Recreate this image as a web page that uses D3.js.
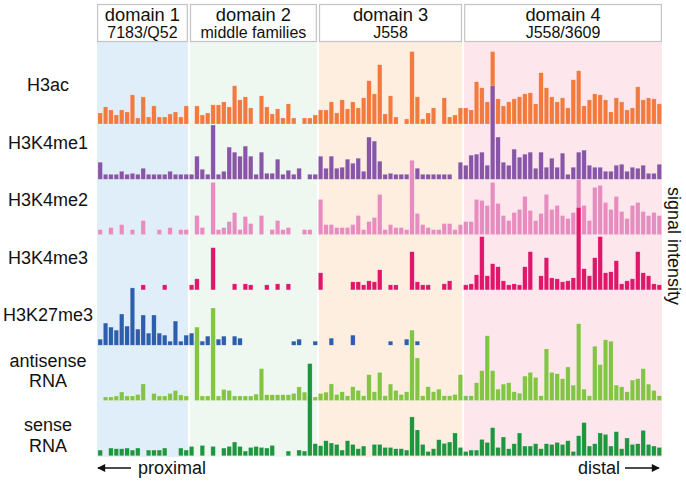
<!DOCTYPE html>
<html>
<head>
<meta charset="utf-8">
<script src="https://cdn.jsdelivr.net/npm/d3@7/dist/d3.min.js"></script>
<style>
html,body{margin:0;padding:0;background:#fff;}
svg{display:block;font-family:"Liberation Sans",Arial,Helvetica,sans-serif;}
</style>
</head>
<body>
<svg id="chart" width="686" height="483"></svg>
<script>
// ---------- data ----------
const N = null;
const domainNames = ["domain 1", "domain 2", "domain 3", "domain 4"];
const domainSubs = ["7183/Q52", "middle families", "J558", "J558/3609"];
const domainStartSlot = [0, 17, 41, 68];
const domainEndSlot = [17, 41, 68, 105];
const trackNames = [["H3ac"], ["H3K4me1"], ["H3K4me2"], ["H3K4me3"], ["H3K27me3"], ["antisense", "RNA"], ["sense", "RNA"]];
const axisLabel = "signal intensity";
const leftArrowLabel = "proximal";
const rightArrowLabel = "distal";

const h3ac = [11,17,14,9,14,12,29,6,27,7,18,7,7,10,12,7,18,
  N,18,9,11,19,19,22,17,38,24,27,16,N,28,17,10,15,6,20,6,N,6,6,9,
  14,14,22,11,24,15,22,16,26,43,30,59,10,28,7,N,5,72,27,5,11,16,N,26,7,9,16,
  16,14,42,36,22,72,25,18,22,25,27,30,31,20,51,36,27,22,26,16,44,53,18,24,30,29,24,12,26,22,14,16,37,24,26,25,20];
const h3k4me1 = [17,5,5,5,8,5,6,5,11,5,5,5,5,8,5,5,5,
  5,23,10,5,54,5,8,32,27,23,33,23,5,27,6,6,20,5,9,5,11,N,5,5,
  23,11,23,11,12,20,16,21,8,42,38,18,5,6,5,5,5,5,11,5,5,5,5,5,5,N,17,
  14,24,25,27,14,93,42,17,14,30,22,25,27,11,27,12,21,12,26,5,12,27,29,14,12,12,8,8,14,15,8,12,11,14,6,6,15];
const h3k4me2 = [5,N,7,N,10,N,5,N,14,N,N,5,N,7,N,5,5,
  N,19,7,N,52,5,7,13,22,5,18,11,N,19,N,5,14,5,7,N,N,5,5,N,
  35,10,10,7,7,7,10,19,5,13,17,40,5,10,7,7,5,74,21,10,7,5,5,11,11,5,10,
  13,13,35,34,29,52,31,19,14,22,25,38,24,14,21,40,25,29,19,16,22,55,29,14,47,49,32,25,38,23,16,29,32,23,19,22,19];
const h3k4me3 = [N,N,N,N,N,N,N,N,5,N,N,N,5,N,N,N,N,
  5,11,N,N,42,N,N,N,6,N,6,5,N,N,5,N,6,N,6,N,N,N,N,N,
  17,N,N,N,N,N,8,8,5,9,8,20,N,5,5,N,N,38,8,5,5,N,N,6,9,N,N,
  5,6,15,53,14,26,23,9,5,6,5,23,38,N,14,32,12,11,8,9,12,82,21,14,32,53,17,18,29,6,9,11,38,17,14,6,5];
const h3k27me3 = [6,22,18,15,31,19,57,16,30,12,30,12,10,4,24,4,10,
  12,4,4,9,N,6,9,N,9,7,N,N,N,N,N,N,N,N,N,4,6,N,N,4,
  N,N,7,N,N,N,10,N,N,N,N,N,N,4,N,N,6,N,4,N,N,N,N,N,N,N,N,
  N,N,N,N,N,N,N,N,N,N,N,N,N,N,N,N,N,N,N,N,N,N,N,N,N,N,N,N,N,N,N,N,N,N,N,N,N];
const antisenseRNA = [N,3.5,3.5,4.5,8.5,4.5,4.5,6,16.5,N,7,4.5,4.5,7,10,5.5,4.5,
  N,73,4.5,4.5,92,4.5,11,10,4.5,4.5,4.5,4.5,6.3,31.7,5.7,5.7,5.7,5.7,5.7,7,13.5,8.3,5,3.5,
  7,8.3,16.5,6,8.7,4.7,13.7,10,4.7,25.7,8.7,28,4.7,16.3,10,6,8.7,70,42.3,4.7,13.7,8.7,11.3,4.7,4.7,6,25.7,
  4.7,4.7,17.7,29.7,64.4,29.7,11.3,16.3,17.7,8.7,7.3,24.3,28,23,4.7,51.3,28,26.7,21.7,33.3,15.3,76.4,11.3,4.7,54,35.7,60.4,59,15.3,13.7,8.7,20.3,21.7,31.7,16.3,10,4.7];
const senseRNA = [5.7,N,7.7,7,7,7.7,5.7,7.7,N,5.7,5.7,5.7,7.7,N,N,7.7,5.7,
  9.3,N,10.3,N,9.3,N,7.7,9.3,13.7,9.3,4.7,8.3,9.3,8.3,7.7,10.3,N,N,4.7,N,5.7,4.7,91.7,12,
  10,15,12.7,11.3,5.7,15,11.3,7,9.7,N,11.3,11.3,8.3,8.3,7,7,5.7,38.7,25.7,11.3,4.3,7,16,12.3,13.7,22.7,8.3,
  4.3,5.7,5.7,16.3,13.3,28,8.3,18.7,7,12,22.7,9.7,9.7,12,7,12,11.3,13.3,11.3,15,4.3,20,33,9.7,12,22.7,21.3,9.7,24,7,17.7,11.3,12,25.3,11.3,9.7,8.3];

// ---------- styles / layout ----------
const trackSeries = [h3ac, h3k4me1, h3k4me2, h3k4me3, h3k27me3, antisenseRNA, senseRNA];
const trackColors = ["#f37a3e", "#8956a7", "#e68cbe", "#e0166a", "#2c5eab", "#83c443", "#1e963e"];
const domainColors = ["#dfeef8", "#eff7f1", "#fdeee0", "#fde6ec"];
const labelBaselines = [90.5, 149, 206, 264, 320.5, 366.5, 431];

const svg = d3.select("#chart");
const nSlots = 105;
const x = d3.scaleLinear().domain([0, nSlots]).range([97.5, 662]);
const y = d3.scaleLinear().domain([0, 55]).range([0, 55.3]);
const base0 = 124, trackStep = 55.3;
const pitch = x(1) - x(0);

const dLeft = i => x(domainStartSlot[i]) + (domainStartSlot[i] === 0 ? -0.5 : 1);
const dRight = i => x(domainEndSlot[i]) - (domainEndSlot[i] === nSlots ? 0 : 1);

// domain backgrounds
svg.append("g").selectAll("rect").data(domainNames).join("rect")
  .attr("x", (d, i) => dLeft(i))
  .attr("width", (d, i) => dRight(i) - dLeft(i))
  .attr("y", 41.5).attr("height", 457 - 41.5)
  .attr("fill", (d, i) => domainColors[i]);

// header boxes
const hdr = svg.append("g").selectAll("g").data(domainNames).join("g");
hdr.append("rect")
  .attr("x", (d, i) => dLeft(i) + 0.6)
  .attr("width", (d, i) => dRight(i) - dLeft(i) - 1.2)
  .attr("y", 4.5).attr("height", 37)
  .attr("fill", "#fff").attr("stroke", "#c4c4c4").attr("stroke-width", 1.2);
hdr.append("text")
  .attr("x", (d, i) => (dLeft(i) + dRight(i)) / 2)
  .attr("y", 21).attr("text-anchor", "middle")
  .attr("font-size", 18.3).attr("fill", "#111").text(d => d);
hdr.append("text")
  .attr("x", (d, i) => (dLeft(i) + dRight(i)) / 2)
  .attr("y", 38).attr("text-anchor", "middle")
  .attr("font-size", 16).attr("fill", "#111").text((d, i) => domainSubs[i]);

// bars
trackSeries.forEach((vals, t) => {
  const base = base0 + t * trackStep;
  const data = vals.map((v, k) => ({ k, v })).filter(d => d.v !== null);
  svg.append("g").selectAll("rect").data(data).join("rect")
    .attr("x", d => x(d.k) + 0.45)
    .attr("width", pitch - 0.9)
    .attr("y", d => base - y(d.v))
    .attr("height", d => y(d.v))
    .attr("fill", trackColors[t])
    .attr("stroke", "rgba(255,255,255,0.45)")
    .attr("stroke-width", 0.5);
});

// track labels
trackNames.forEach((lines, t) => {
  const txt = svg.append("text").attr("text-anchor", "middle")
    .attr("font-size", 18).attr("fill", "#111");
  lines.forEach((ln, j) => {
    txt.append("tspan").attr("x", 48).attr("y", labelBaselines[t] + j * 20.5).text(ln);
  });
});

// right axis label
svg.append("text")
  .attr("transform", "translate(668,246) rotate(90)")
  .attr("text-anchor", "middle").attr("font-size", 18).attr("fill", "#111")
  .text(axisLabel);

// arrows
const defs = svg.append("defs");
defs.append("marker").attr("id", "ah").attr("viewBox", "0 0 10 10")
  .attr("refX", 9).attr("refY", 5).attr("markerWidth", 10).attr("markerHeight", 8)
  .attr("markerUnits", "userSpaceOnUse").attr("orient", "auto")
  .append("path").attr("d", "M0,0 L10,5 L0,10 Z").attr("fill", "#111");

svg.append("line").attr("x1", 131).attr("x2", 98).attr("y1", 468).attr("y2", 468)
  .attr("stroke", "#111").attr("stroke-width", 1.6).attr("marker-end", "url(#ah)");
svg.append("text").attr("x", 138).attr("y", 473.5).attr("font-size", 18).attr("fill", "#111")
  .text(leftArrowLabel);

svg.append("line").attr("x1", 625).attr("x2", 659).attr("y1", 468).attr("y2", 468)
  .attr("stroke", "#111").attr("stroke-width", 1.6).attr("marker-end", "url(#ah)");
svg.append("text").attr("x", 620).attr("y", 473.5).attr("text-anchor", "end")
  .attr("font-size", 18).attr("fill", "#111").text(rightArrowLabel);
</script>
</body>
</html>
